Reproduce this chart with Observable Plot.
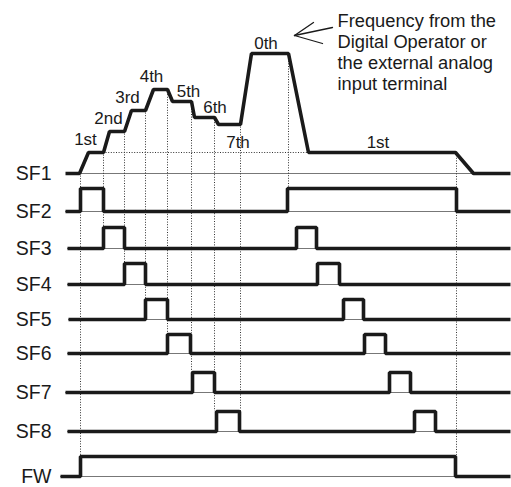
<!DOCTYPE html>
<html><head><meta charset="utf-8">
<script src="https://cdn.jsdelivr.net/npm/d3@7"></script>
<script src="https://cdn.jsdelivr.net/npm/@observablehq/plot@0.6"></script>
<style>html,body{margin:0;padding:0;background:#fff}svg{display:block}</style>
</head><body><div id="chart"></div>
<script>
// ---- data ----
const rows = ["SF1","SF2","SF3","SF4","SF5","SF6","SF7","SF8","FW"];
// output frequency profile drawn on the SF1 row (time, frequency level)
const freqTime  = [-14, 0, 9, 24, 30, 45, 52, 66, 74, 88, 93, 112, 115, 135, 139, 161, 172, 209, 229, 376, 394, 431];
const freqLevel = [0, 0, 21, 21, 42, 42, 63, 63, 84, 84, 72, 72, 56, 56, 49, 49, 120, 120, 21, 21, 0, 0];
const stepLabels     = ["1st","2nd","3rd","4th","5th","6th","7th","0th","1st"];
const stepLabelTime  = [6, 29, 48, 72, 109, 135.5, 158.5, 186.5, 298.5];
const stepLabelLevel = [29, 50, 71, 92, 77, 61, 26, 125, 26];
// ON intervals of each input
const onSF2 = [[1, 24], [208, 377]];
const onSF3 = [[24, 45], [217, 237]];
const onSF4 = [[45, 66], [238, 260]];
const onSF5 = [[66, 88], [264, 284]];
const onSF6 = [[88, 111], [285, 306]];
const onSF7 = [[113, 135], [310, 331]];
const onSF8 = [[137, 160], [335, 356]];
const onFW  = [[1, 376]];
const rowStart = [-14, -14, -12, -12, -11, -12, -14, -12, -19];
const endTime = 431;
// dotted guide lines: time and the row whose pulse edge they reach
const guideTime = [1, 24, 45, 66, 88, 112, 135, 161, 209, 377];
const guideRow  = ["FW","SF3","SF4","SF5","SF6","SF7","SF8","SF8","SF2","FW"];
const noteLines = ["Frequency from the", "Digital Operator or", "the external analog", "input terminal"];

// ---- layout ----
const rowBase = [173, 211, 248, 284, 319, 353, 392, 431, 476];
const rowTop  = [null, 188, 227, 263, 299, 334, 372, 411, 456];
const FONT = "'Liberation Sans', Arial, Helvetica, sans-serif";
const INK = "#1a1a1a";

const ons = {SF2: onSF2, SF3: onSF3, SF4: onSF4, SF5: onSF5, SF6: onSF6, SF7: onSF7, SF8: onSF8, FW: onFW};
const idx = r => rows.indexOf(r);

const profile = freqTime.map((t, i) => ({t, y: rowBase[0] - freqLevel[i]}));
const levelAt = d3.scaleLinear().domain(freqTime).range(freqLevel);

const pulsePts = [];
for (const r of rows.slice(1)) {
  const i = idx(r), b = rowBase[i], tp = rowTop[i];
  pulsePts.push({r, t: rowStart[i], y: b});
  for (const [a, e] of ons[r]) {
    pulsePts.push({r, t: a, y: b}, {r, t: a, y: tp}, {r, t: e, y: tp}, {r, t: e, y: b});
  }
  pulsePts.push({r, t: endTime, y: b});
}

const baselines = rows.map((r, i) => ({r, x1: i === 0 ? 0 : rowStart[i], x2: endTime, y: rowBase[i]}));
const guides = guideTime.map((t, k) => ({t, y1: rowBase[0] - (k === 0 ? 0 : levelAt(t - 0.5)), y2: rowTop[idx(guideRow[k])]}));
const labels = stepLabels.map((s, i) => ({s, t: stepLabelTime[i], y: rowBase[0] - stepLabelLevel[i]}));
const rowLabels = rows.map((r, i) => ({r, y: rowBase[i]}));
const notes = noteLines.map((s, i) => ({s, y: 26 + i * 21.3}));
// open arrow pointing at the 0th level: tip, shaft end, two wings
const tip = {t: 215, y: 35};
const arrowSegs = [
  {t1: tip.t, y1: tip.y, t2: 253, y2: 27},
  {t1: tip.t, y1: tip.y, t2: 234, y2: 22},
  {t1: tip.t, y1: tip.y, t2: 243, y2: 43}
];

const chart = Plot.plot({
  width: 511, height: 487,
  marginTop: 0, marginRight: 0, marginBottom: 0, marginLeft: 0,
  x: {domain: [-79, 432], range: [0, 511], axis: null},
  y: {domain: [0, 487], range: [0, 487], axis: null},
  style: {fontFamily: FONT, background: "#fff", overflow: "visible"},
  marks: [
    Plot.ruleY(baselines, {y: "y", x1: "x1", x2: "x2", stroke: "#777", strokeWidth: 1}),
    Plot.ruleX(guides, {x: "t", y1: "y1", y2: "y2", stroke: "#333", strokeWidth: 1, strokeDasharray: "1,1.6"}),
    Plot.ruleY([rowBase[0] - 21], {y: d => d, x1: 24, x2: 229, stroke: "#333", strokeWidth: 1, strokeDasharray: "1,1.6"}),
    Plot.line(profile, {x: "t", y: "y", stroke: INK, strokeWidth: 3.6, strokeLinejoin: "miter", strokeLinecap: "butt"}),
    Plot.line(pulsePts, {x: "t", y: "y", z: "r", stroke: INK, strokeWidth: 3.6, strokeLinejoin: "miter", strokeLinecap: "butt"}),
    Plot.text(labels, {x: "t", y: "y", text: "s", fontSize: 17, fill: INK, textAnchor: "middle", lineAnchor: "bottom"}),
    Plot.text(rowLabels, {x: -28, y: "y", text: "r", fontSize: 19.5, fill: INK, textAnchor: "end", lineAnchor: "middle"}),
    Plot.text(notes, {x: 258, y: "y", text: "s", fontSize: 18.3, fill: INK, textAnchor: "start", lineAnchor: "bottom"}),
    Plot.link(arrowSegs, {x1: "t1", y1: "y1", x2: "t2", y2: "y2", stroke: INK, strokeWidth: 1.3, strokeLinecap: "round"})
  ]
});
document.getElementById("chart").append(chart);
</script>
</body></html>
